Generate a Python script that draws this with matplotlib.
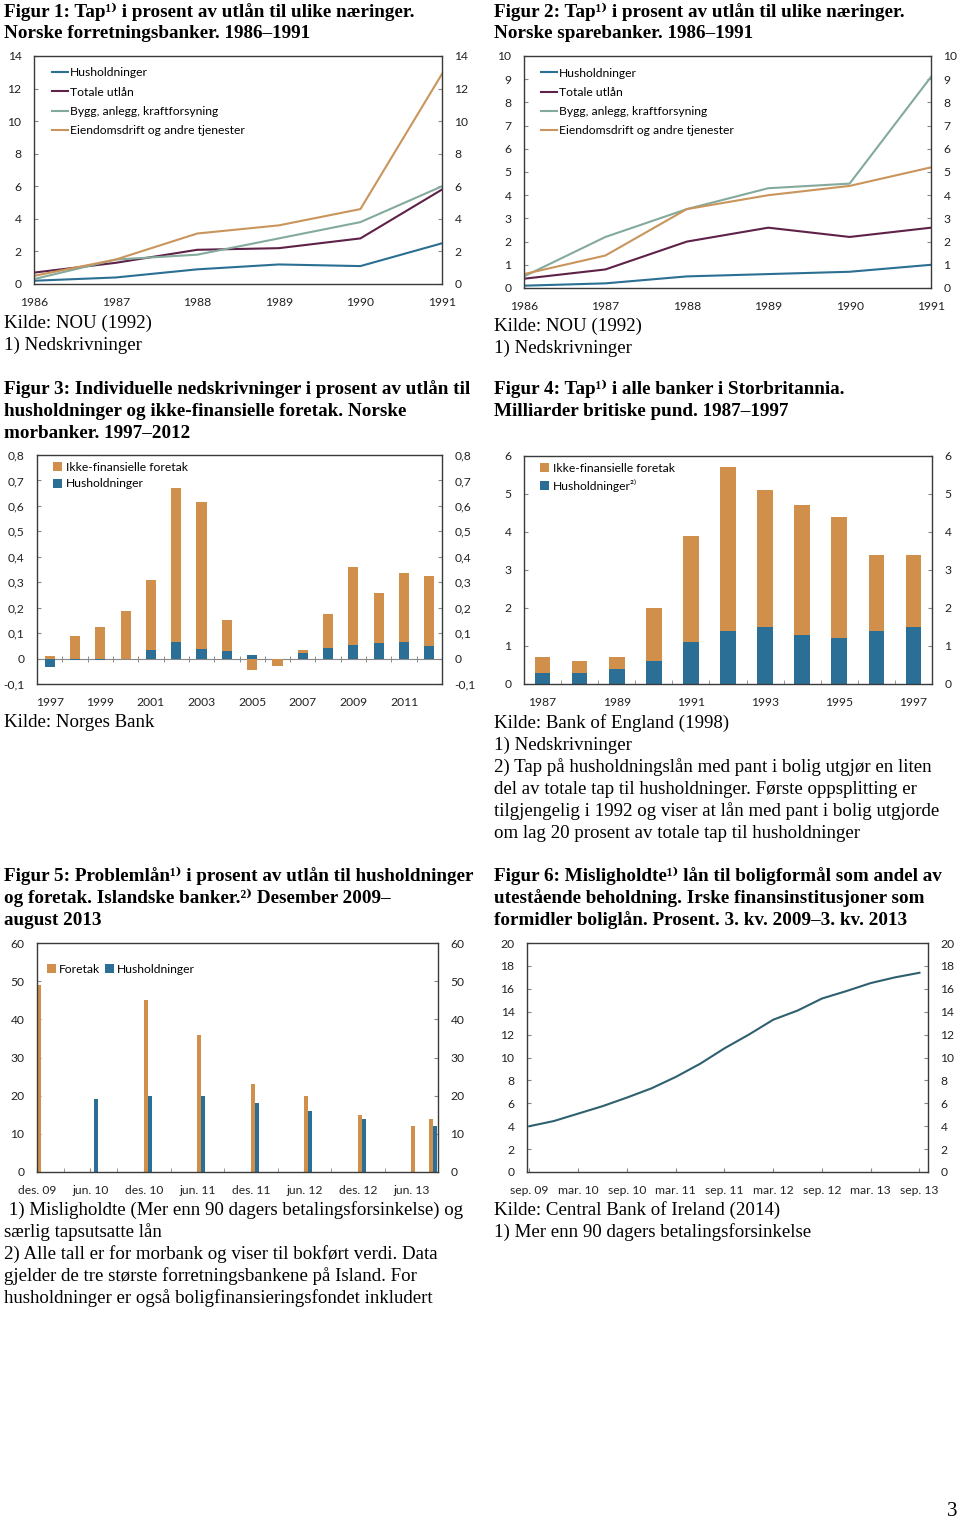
import numpy as np
import matplotlib.pyplot as plt
from matplotlib.ticker import FuncFormatter, MultipleLocator

SERIF = ['Liberation Serif', 'DejaVu Serif']
SANS = ['Lato', 'DejaVu Sans']

# farger
C_HUSH = '#2b6f93'
C_TOTAL = '#5e2148'
C_BYGG = '#83aa9c'
C_EIEND = '#c9955c'
C_ORANGE = '#d18f4c'
C_BLUE = '#2b6f96'
C_LINE6 = '#2f6070'

# Figur 1: norske forretningsbanker
years_1 = [1986, 1987, 1988, 1989, 1990, 1991]
f1_hush = [0.2, 0.4, 0.9, 1.2, 1.1, 2.5]
f1_total = [0.7, 1.3, 2.1, 2.2, 2.8, 5.8]
f1_bygg = [0.3, 1.5, 1.8, 2.8, 3.8, 6.0]
f1_eiend = [0.5, 1.5, 3.1, 3.6, 4.6, 12.9]

# Figur 2: norske sparebanker
f2_hush = [0.1, 0.2, 0.5, 0.6, 0.7, 1.0]
f2_total = [0.4, 0.8, 2.0, 2.6, 2.2, 2.6]
f2_bygg = [0.5, 2.2, 3.4, 4.3, 4.5, 9.1]
f2_eiend = [0.6, 1.4, 3.4, 4.0, 4.4, 5.2]

series_names = ['Husholdninger', 'Totale utlån', 'Bygg, anlegg, kraftforsyning',
                'Eiendomsdrift og andre tjenester']

# Figur 3: norske morbanker
years_3 = list(range(1997, 2013))
f3_ikke = [0.01, 0.09, 0.125, 0.185, 0.277, 0.603, 0.578, 0.121,
           -0.045, -0.03, 0.015, 0.135, 0.303, 0.196, 0.269, 0.274]
f3_hush = [-0.035, -0.004, -0.004, 0.0, 0.033, 0.067, 0.037, 0.031,
           0.015, 0.0, 0.02, 0.04, 0.055, 0.06, 0.067, 0.051]

# Figur 4: Storbritannia
years_4 = list(range(1987, 1998))
f4_ikke = [0.4, 0.3, 0.3, 1.4, 2.8, 4.3, 3.6, 3.4, 3.2, 2.0, 1.9]
f4_hush = [0.3, 0.3, 0.4, 0.6, 1.1, 1.4, 1.5, 1.3, 1.2, 1.4, 1.5]

# Figur 5: Island, månedlig des. 2009 - aug. 2013
f5_labels = ['des. 09', 'jun. 10', 'des. 10', 'jun. 11', 'des. 11', 'jun. 12',
             'des. 12', 'jun. 13']
f5_foretak = [49, 0, 0, 0, 0, 0,  0, 0, 0, 0, 0, 0,
              45, 0, 0, 0, 0, 0,  36, 0, 0, 0, 0, 0,
              23, 0, 0, 0, 0, 0,  20, 0, 0, 0, 0, 0,
              15, 0, 0, 0, 0, 0,  12, 0, 14]
f5_hush = [0, 0, 0, 0, 0, 0,  19, 0, 0, 0, 0, 0,
           20, 0, 0, 0, 0, 0,  20, 0, 0, 0, 0, 0,
           18, 0, 0, 0, 0, 0,  16, 0, 0, 0, 0, 0,
           14, 0, 0, 0, 0, 0,  0, 0, 12]

# Figur 6: Irland, kvartalsvis
f6_labels = ['sep. 09', 'mar. 10', 'sep. 10', 'mar. 11', 'sep. 11', 'mar. 12',
             'sep. 12', 'mar. 13', 'sep. 13']
f6_values = [4.0, 4.45, 5.1, 5.75, 6.5, 7.3, 8.3, 9.45, 10.8, 12.0, 13.3,
             14.1, 15.15, 15.8, 16.5, 17.0, 17.4]

W, H = 960, 1523
fig = plt.figure(figsize=(W / 100, H / 100), dpi=100)
fig.patch.set_facecolor('white')

TITLE_SIZE = 13.8
BODY_SIZE = 13.6
TICK_SIZE = 8.7


def ax_at(l, t, r, b):
    return fig.add_axes([l / W, 1 - b / H, (r - l) / W, (b - t) / H])


def txt(x, y, s, bold=False, size=None):
    if size is None:
        size = TITLE_SIZE if bold else BODY_SIZE
    fig.text(x / W, 1 - y / H, s, family=SERIF, fontsize=size,
             weight='bold' if bold else 'normal', va='center', ha='left')


def style(ax, ylim, ystep, fmt=None):
    ax.set_ylim(*ylim)
    ax.yaxis.set_major_locator(MultipleLocator(ystep))
    if fmt:
        ax.yaxis.set_major_formatter(FuncFormatter(fmt))
    for s in ax.spines.values():
        s.set_color('#3a3a3a')
        s.set_linewidth(1.0)
    ax.tick_params(axis='y', left=True, right=True, labelleft=True, labelright=True,
                   direction='in', length=3, color='#888888', labelsize=TICK_SIZE,
                   labelcolor='#222222', pad=9)
    ax.tick_params(axis='x', direction='in', length=3, color='#888888',
                   labelsize=TICK_SIZE, labelcolor='#222222', pad=9)
    for lab in ax.get_xticklabels() + ax.get_yticklabels():
        lab.set_family(SANS)


def comma(v, pos):
    if abs(v) < 1e-9:
        return '0'
    return ('%.1f' % v).replace('.', ',')


def line_chart(ax, years, data, ylim, ystep, leg_xy):
    colors = [C_HUSH, C_TOTAL, C_BYGG, C_EIEND]
    for vals, c, name in zip(data, colors, series_names):
        ax.plot(years, vals, color=c, lw=1.5, label=name)
    ax.set_xlim(years[0], years[-1])
    ax.set_xticks(years)
    style(ax, ylim, ystep)
    ax.tick_params(axis='x', length=0)
    ax.legend(loc='upper left', bbox_to_anchor=leg_xy, frameon=False,
              prop={'family': SANS, 'size': TICK_SIZE}, handlelength=1.3,
              handletextpad=0.15, labelspacing=0.68, borderpad=0,
              borderaxespad=0)


def stack(ax, x, lower, upper, width, labels):
    lower = np.array(lower, dtype=float)
    upper = np.array(upper, dtype=float)
    b1 = ax.bar(x, lower, width, color=C_BLUE, zorder=2)
    pos_base = np.where(lower > 0, lower, 0)
    neg_base = np.where(lower < 0, lower, 0)
    base = np.where(upper >= 0, pos_base, neg_base)
    b2 = ax.bar(x, upper, width, bottom=base, color=C_ORANGE, zorder=2)
    ax.legend([b2, b1], labels, loc='upper left', bbox_to_anchor=(0.04, 0.97),
              frameon=False, prop={'family': SANS, 'size': TICK_SIZE},
              handlelength=0.75, handleheight=0.75, handletextpad=0.3,
              labelspacing=0.45, borderpad=0, borderaxespad=0)


# ---------- Figur 1 ----------
txt(4, 12, 'Figur 1: Tap¹⁾ i prosent av utlån til ulike næringer.', bold=True)
txt(4, 33, 'Norske forretningsbanker. 1986–1991', bold=True)
ax1 = ax_at(34, 56, 442, 284)
line_chart(ax1, years_1, [f1_hush, f1_total, f1_bygg, f1_eiend], (0, 14), 2,
           (0.045, 0.95))
txt(4, 323, 'Kilde: NOU (1992)')
txt(4, 345, '1) Nedskrivninger')

# ---------- Figur 2 ----------
txt(494, 12, 'Figur 2: Tap¹⁾ i prosent av utlån til ulike næringer.', bold=True)
txt(494, 33, 'Norske sparebanker. 1986–1991', bold=True)
ax2 = ax_at(524, 56, 931, 288)
line_chart(ax2, years_1, [f2_hush, f2_total, f2_bygg, f2_eiend], (0, 10), 1,
           (0.042, 0.95))
txt(494, 326, 'Kilde: NOU (1992)')
txt(494, 348, '1) Nedskrivninger')

# ---------- Figur 3 ----------
txt(4, 389, 'Figur 3: Individuelle nedskrivninger i prosent av utlån til', bold=True)
txt(4, 411, 'husholdninger og ikke-finansielle foretak. Norske', bold=True)
txt(4, 433, 'morbanker. 1997–2012', bold=True)
ax3 = ax_at(37, 455, 442, 684)
x3 = np.arange(len(years_3))
stack(ax3, x3, f3_hush, f3_ikke, 0.4, ['Ikke-finansielle foretak', 'Husholdninger'])
ax3.axhline(0, color='#8a8a8a', lw=0.8, zorder=1)
ax3.plot(x3[:-1] + 0.5, np.zeros(len(x3) - 1), ls='none', marker='|', ms=4,
         mew=0.7, color='#8a8a8a', zorder=1)
ax3.set_xlim(-0.5, len(years_3) - 0.5)
ax3.set_xticks(x3[::2])
ax3.set_xticklabels([str(y) for y in years_3[::2]])
style(ax3, (-0.1, 0.8), 0.1, comma)
ax3.tick_params(axis='x', length=0)
txt(4, 723, 'Kilde: Norges Bank')

# ---------- Figur 4 ----------
txt(494, 389, 'Figur 4: Tap¹⁾ i alle banker i Storbritannia.', bold=True)
txt(494, 411, 'Milliarder britiske pund. 1987–1997', bold=True)
ax4 = ax_at(524, 456, 932, 684)
x4 = np.arange(len(years_4))
stack(ax4, x4, f4_hush, f4_ikke, 0.42, ['Ikke-finansielle foretak', 'Husholdninger²⁾'])
ax4.set_xlim(-0.5, len(years_4) - 0.5)
ax4.set_xticks(x4[::2])
ax4.set_xticklabels([str(y) for y in years_4[::2]])
ax4.set_xticks(x4[:-1] + 0.5, minor=True)
style(ax4, (0, 6), 1)
ax4.tick_params(axis='x', which='major', length=0)
ax4.tick_params(axis='x', which='minor', direction='in', length=3, color='#888888')
txt(494, 723, 'Kilde: Bank of England (1998)')
txt(494, 745, '1) Nedskrivninger')
txt(494, 767, '2) Tap på husholdningslån med pant i bolig utgjør en liten')
txt(494, 789, 'del av totale tap til husholdninger. Første oppsplitting er')
txt(494, 811, 'tilgjengelig i 1992 og viser at lån med pant i bolig utgjorde')
txt(494, 833, 'om lag 20 prosent av totale tap til husholdninger')

# ---------- Figur 5 ----------
txt(4, 876, 'Figur 5: Problemlån¹⁾ i prosent av utlån til husholdninger', bold=True)
txt(4, 898, 'og foretak. Islandske banker.²⁾ Desember 2009–', bold=True)
txt(4, 920, 'august 2013', bold=True)
ax5 = ax_at(37, 943, 438, 1172)
x5 = np.arange(len(f5_foretak))
ax5.bar(x5, f5_foretak, 0.45, align='edge', color=C_ORANGE, label='Foretak', zorder=2)
ax5.bar(x5 + 0.45, f5_hush, 0.45, align='edge', color=C_BLUE, label='Husholdninger',
        zorder=2)
ax5.set_xlim(0, len(f5_foretak))
ax5.set_xticks(np.arange(0, len(f5_foretak), 6))
ax5.set_xticklabels(f5_labels)
ax5.set_xticks(np.arange(3, len(f5_foretak), 6), minor=True)
style(ax5, (0, 60), 10)
ax5.tick_params(axis='x', which='both', direction='in', length=3, color='#888888')
ax5.legend(loc='upper left', bbox_to_anchor=(0.025, 0.91), frameon=False, ncol=2,
           prop={'family': SANS, 'size': TICK_SIZE}, handlelength=0.75,
           handleheight=0.75, handletextpad=0.25, columnspacing=0.4, borderpad=0,
           borderaxespad=0)
txt(4, 1210, ' 1) Misligholdte (Mer enn 90 dagers betalingsforsinkelse) og')
txt(4, 1232, 'særlig tapsutsatte lån')
txt(4, 1254, '2) Alle tall er for morbank og viser til bokført verdi. Data')
txt(4, 1276, 'gjelder de tre største forretningsbankene på Island. For')
txt(4, 1298, 'husholdninger er også boligfinansieringsfondet inkludert')

# ---------- Figur 6 ----------
txt(494, 876, 'Figur 6: Misligholdte¹⁾ lån til boligformål som andel av', bold=True)
txt(494, 898, 'utestående beholdning. Irske finansinstitusjoner som', bold=True)
txt(494, 920, 'formidler boliglån. Prosent. 3. kv. 2009–3. kv. 2013', bold=True)
ax6 = ax_at(527, 943, 928, 1172)
x6 = np.arange(len(f6_values))
ax6.plot(x6, f6_values, color=C_LINE6, lw=1.5)
ax6.set_xlim(-0.1, len(f6_values) - 0.65)
ax6.set_xticks(x6[::2])
ax6.set_xticklabels(f6_labels)
style(ax6, (0, 20), 2)
txt(494, 1210, 'Kilde: Central Bank of Ireland (2014)')
txt(494, 1232, '1) Mer enn 90 dagers betalingsforsinkelse')

# sidetall
txt(947, 1512, '3', size=15)

fig.savefig('out.png', dpi=100)
